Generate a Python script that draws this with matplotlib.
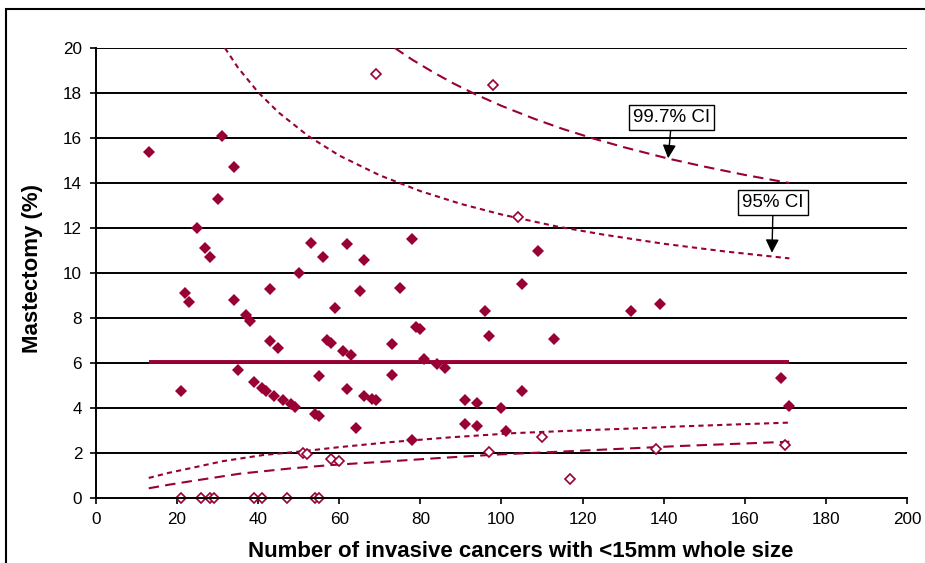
import numpy as np
import matplotlib
matplotlib.use("Agg")
import matplotlib.pyplot as plt
from matplotlib.patches import Rectangle

plt.rcParams['font.family'] = ['Liberation Sans', 'DejaVu Sans']

RED = '#990033'

# units inside control limits (filled diamonds)
in_x = [13, 21, 22, 23, 25, 27, 28, 30, 31, 34, 34, 35, 37, 38, 39, 41, 42, 43, 43, 44,
        45, 46, 48, 49, 50, 53, 54, 55, 55, 56, 57, 58, 59, 61, 62, 62, 63, 64, 65, 66,
        66, 68, 69, 73, 73, 75, 78, 78, 79, 80, 81, 84, 86, 91, 91, 94, 94, 96, 97, 100,
        101, 105, 105, 109, 113, 132, 139, 169, 171]
in_y = [15.4, 4.76, 9.1, 8.7, 12.0, 11.1, 10.7, 13.3, 16.1, 14.7, 8.8, 5.7, 8.13, 7.87, 5.14,
        4.87, 4.75, 9.3, 6.98, 4.53, 6.65, 4.34, 4.16, 4.06, 10.0, 11.32, 3.72, 3.64, 5.44,
        10.7, 7.02, 6.9, 8.46, 6.55, 11.29, 4.84, 6.36, 3.12, 9.21, 10.6, 4.55, 4.39, 4.36,
        6.84, 5.47, 9.32, 11.51, 2.58, 7.61, 7.5, 6.16, 5.96, 5.79, 4.36, 3.29, 4.24, 3.2,
        8.33, 7.2, 3.99, 2.98, 9.51, 4.76, 10.99, 7.07, 8.33, 8.62, 5.32, 4.09]

# units outside control limits (open diamonds)
out_x = [21, 26, 28, 29, 39, 41, 47, 54, 55, 51, 52, 58, 60, 69, 98, 104, 97, 110, 117, 138, 170]
out_y = [0, 0, 0, 0, 0, 0, 0, 0, 0, 1.98, 1.94, 1.73, 1.64, 18.83, 18.36, 12.5, 2.06, 2.73,
         0.84, 2.16, 2.36]

mean_x = [13, 171]
mean_y = [6.05, 6.05]

# confidence limits
u95_x = [31.8, 35, 40, 45, 52.4, 60, 70, 80, 90, 100, 113.6, 125, 140, 155, 171]
u95_y = [20.0, 19.13, 18.03, 17.14, 16.08, 15.22, 14.34, 13.64, 13.07, 12.6, 12.07, 11.71,
         11.3, 10.96, 10.65]
u997_x = [73.7, 78, 83, 88, 93.5, 100, 108, 115, 122.6, 130, 141, 150, 160, 171]
u997_y = [20.0, 19.48, 18.94, 18.44, 17.95, 17.43, 16.86, 16.41, 15.98, 15.6, 15.09, 14.73,
          14.36, 14.0]
l95_x = [13, 18, 23.2, 31.4, 41.3, 51.1, 60, 72.5, 87, 102.9, 120, 134.2, 144, 158, 171]
l95_y = [0.89, 1.12, 1.32, 1.64, 1.91, 2.08, 2.26, 2.48, 2.69, 2.88, 3.01, 3.1, 3.18, 3.27, 3.35]
l997_x = [13, 18, 23.2, 35.5, 47.8, 57.7, 72.5, 85, 98.8, 119.4, 144, 171]
l997_y = [0.43, 0.59, 0.74, 1.08, 1.31, 1.46, 1.63, 1.78, 1.93, 2.1, 2.31, 2.5]

fig = plt.figure(figsize=(9.25, 5.63), dpi=100)
ax = fig.add_axes([0.1038, 0.1155, 0.8767, 0.7992])

# outer frame
fig.patches.append(Rectangle((6 / 925, -0.1), 1.2, 1 - 9 / 563 + 0.1, transform=fig.transFigure,
                             fill=False, edgecolor='black', linewidth=1.5))

for yv in range(2, 21, 2):
    ax.axhline(yv, color='black', linewidth=1.4, zorder=1)

ax.plot(u95_x, u95_y, color=RED, linewidth=1.5, dashes=(2.5, 2), zorder=2)
ax.plot(l95_x, l95_y, color=RED, linewidth=1.5, dashes=(2.5, 2), zorder=2)
ax.plot(u997_x, u997_y, color=RED, linewidth=1.5, dashes=(5, 3), zorder=2)
ax.plot(l997_x, l997_y, color=RED, linewidth=1.5, dashes=(5, 3), zorder=2)
ax.plot(mean_x, mean_y, color=RED, linewidth=2.8, solid_capstyle='butt', zorder=3)

ax.plot(in_x, in_y, linestyle='none', marker='D', markersize=6, color=RED,
        markeredgewidth=0, zorder=4, clip_on=False)
ax.plot(out_x, out_y, linestyle='none', marker='D', markersize=5.5, markerfacecolor='white',
        markeredgecolor=RED, markeredgewidth=1.2, zorder=4, clip_on=False)

box = dict(boxstyle='square,pad=0.22', facecolor='white', edgecolor='black', linewidth=1.0)
arrow = dict(arrowstyle='-|>', color='black', linewidth=1.0, mutation_scale=20, shrinkA=0, shrinkB=0)
ax.annotate('99.7% CI', xy=(141.1, 15.1), xytext=(142.0, 16.9), ha='center', va='center',
            fontsize=13.5, bbox=box, arrowprops=arrow, zorder=6)
ax.annotate('95% CI', xy=(166.7, 10.9), xytext=(167.0, 13.15), ha='center', va='center',
            fontsize=13.5, bbox=box, arrowprops=arrow, zorder=6)

ax.set_xlim(0, 200)
ax.set_ylim(0, 20)
ax.set_xticks(range(0, 201, 20))
ax.set_yticks(range(0, 21, 2))
ax.tick_params(direction='out', length=4, width=1.2, labelsize=12.3, pad=6)
for s in ['top', 'right']:
    ax.spines[s].set_visible(False)
for s in ['left', 'bottom']:
    ax.spines[s].set_linewidth(1.4)
    ax.spines[s].set_zorder(5)

ax.set_xlabel('Number of invasive cancers with <15mm whole size', fontsize=16, fontweight='bold')
ax.xaxis.set_label_coords(0.524, -0.095)
ax.set_ylabel('Mastectomy (%)', fontsize=16, fontweight='bold')
ax.yaxis.set_label_coords(-0.065, 0.51)

fig.savefig('out.png', dpi=100)
